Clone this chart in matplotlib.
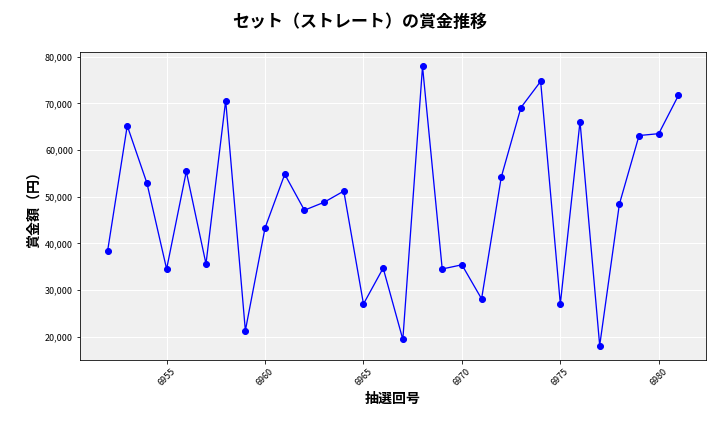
import matplotlib
matplotlib.use("Agg")
import matplotlib.pyplot as plt
from matplotlib.ticker import FuncFormatter

plt.rcParams['font.family'] = ['Noto Sans CJK JP', 'DejaVu Sans']

draws = list(range(6952, 6982))
prizes = [38300, 65200, 52900, 34500, 55400, 35600, 70600, 21300, 43300, 54800,
          47100, 48800, 51200, 27000, 34700, 19400, 77900, 34500, 35400, 28100,
          54200, 69100, 74700, 27000, 66100, 18100, 48400, 63100, 63500, 71700]

fig = plt.figure(figsize=(10, 6), dpi=72)
ax = fig.add_axes([80/720, 72/432, 626/720, 308/432])
ax.set_facecolor('#f0f0f0')
ax.grid(True, color='white', linewidth=1)
ax.set_axisbelow(True)
ax.plot(draws, prizes, color='blue', marker='o', markersize=6, linewidth=1.3)
ax.yaxis.set_major_formatter(FuncFormatter(lambda v, p: f'{int(v):,}'))
ax.set_xticks([6955, 6960, 6965, 6970, 6975, 6980])
ax.set_yticks(range(20000, 80001, 10000))
ax.set_ylim(15000, 81000)
ax.set_xlim(6950.6, 6982.4)
ax.tick_params(axis='x', labelrotation=45, labelsize=9)
ax.tick_params(axis='y', labelsize=9)
ax.set_xlabel('抽選回号', fontsize=14, fontweight='bold')
ax.set_ylabel('賞金額（円）', fontsize=14, fontweight='bold')
fig.suptitle('セット（ストレート）の賞金推移', fontsize=17, fontweight='bold', y=0.97)
fig.savefig('out.png', dpi=72)
